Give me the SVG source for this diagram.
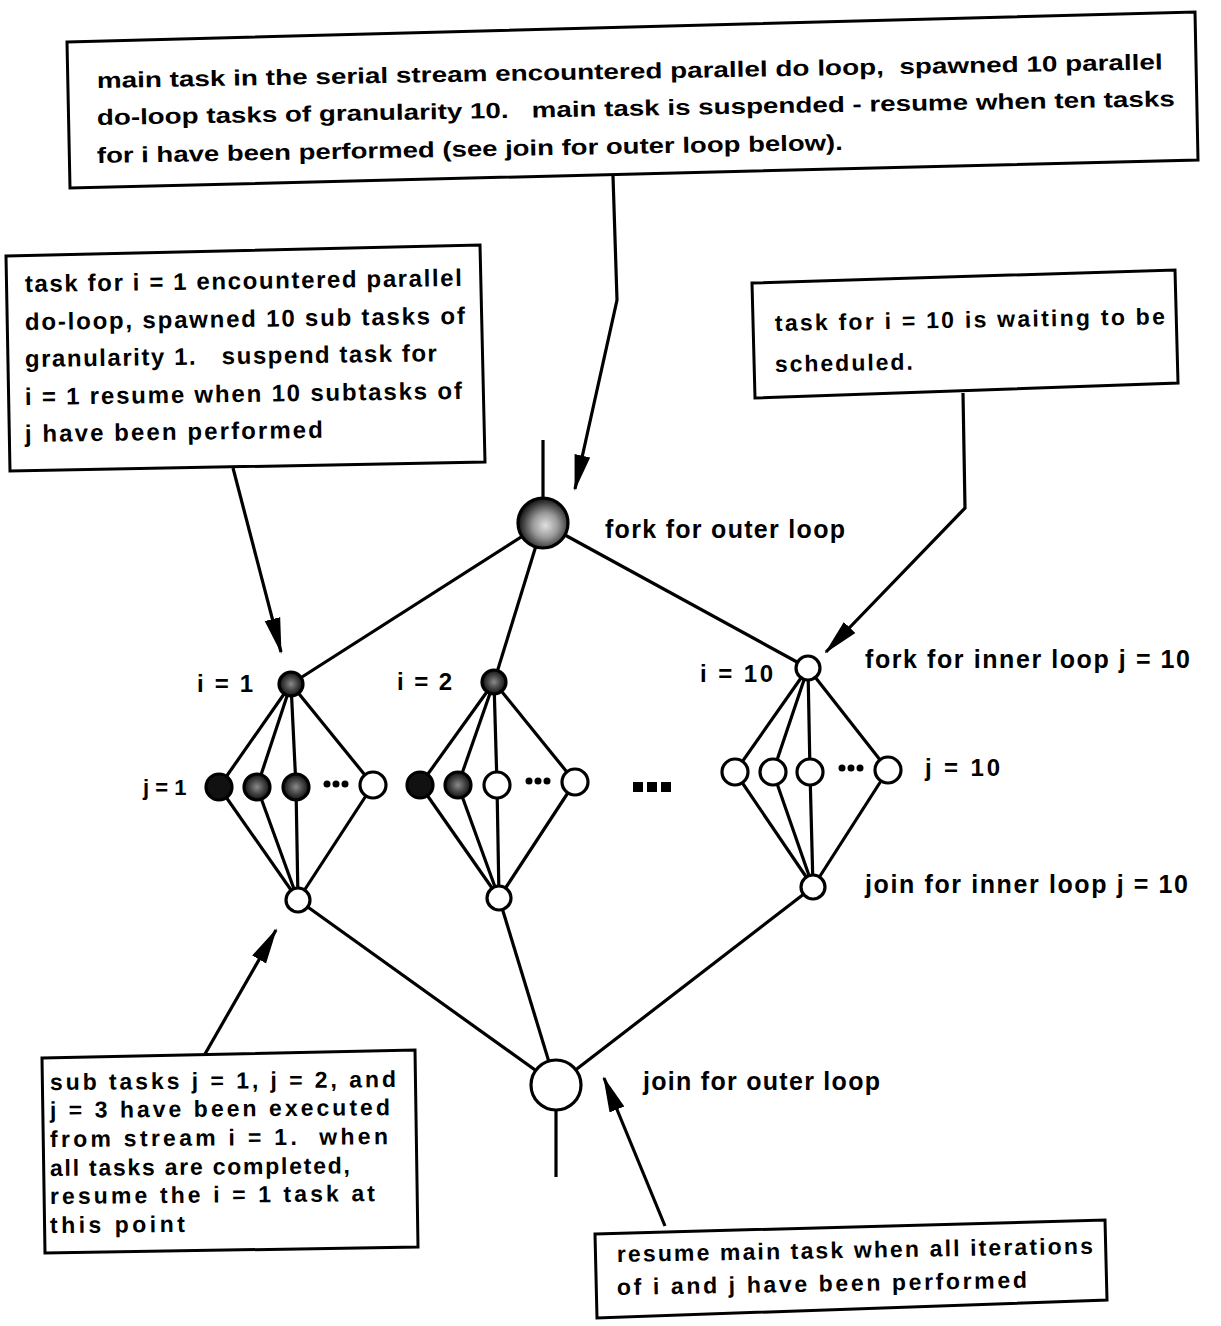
<svg xmlns="http://www.w3.org/2000/svg" width="1221" height="1326" viewBox="0 0 1221 1326">
<style>
.box{fill:#fff;stroke:#000;stroke-width:3}
.t{font-family:"Liberation Sans",Arial,sans-serif;font-weight:bold;fill:#000}
.e{stroke:#000;stroke-width:3.2;fill:none}
.n{stroke:#000;stroke-width:3.2}
.open{fill:#fff}
.blk{fill:#111}
.dk{fill:url(#dk)}
</style>
<defs>
<radialGradient id="dk" cx="50%" cy="50%" r="50%">
<stop offset="0" stop-color="#8a8a8a"/><stop offset="0.55" stop-color="#444"/><stop offset="1" stop-color="#111"/>
</radialGradient>
<radialGradient id="fk" cx="55%" cy="55%" r="55%">
<stop offset="0" stop-color="#e0e0e0"/><stop offset="0.45" stop-color="#9a9a9a"/><stop offset="1" stop-color="#111"/>
</radialGradient>
<marker id="ah" markerUnits="userSpaceOnUse" markerWidth="36" markerHeight="20" refX="34" refY="10" orient="auto">
<path d="M0,2 L36,10 L0,18 Z" fill="#000"/>
</marker>
</defs>

<g id="connectors">
<polyline class="e" points="613,176 617,300 575,489" marker-end="url(#ah)"/>
<polyline class="e" points="233,468 281,652" marker-end="url(#ah)"/>
<polyline class="e" points="963,393 965,508 826,652" marker-end="url(#ah)"/>
<polyline class="e" points="205,1054 276,930" marker-end="url(#ah)"/>
<polyline class="e" points="665,1226 604,1078" marker-end="url(#ah)"/>

<line class="e" x1="543" y1="440" x2="543" y2="500"/>
<line class="e" x1="543" y1="523" x2="291" y2="684"/>
<line class="e" x1="543" y1="523" x2="494" y2="682"/>
<line class="e" x1="543" y1="523" x2="808" y2="668"/>

<g>
<line class="e" x1="291" y1="684" x2="219" y2="787"/>
<line class="e" x1="291" y1="684" x2="257" y2="787"/>
<line class="e" x1="291" y1="684" x2="296" y2="787"/>
<line class="e" x1="291" y1="684" x2="373" y2="785"/>
<line class="e" x1="219" y1="787" x2="298" y2="900"/>
<line class="e" x1="257" y1="787" x2="298" y2="900"/>
<line class="e" x1="296" y1="787" x2="298" y2="900"/>
<line class="e" x1="373" y1="785" x2="298" y2="900"/>
</g>
<g>
<line class="e" x1="494" y1="682" x2="420" y2="785"/>
<line class="e" x1="494" y1="682" x2="458" y2="785"/>
<line class="e" x1="494" y1="682" x2="497" y2="785"/>
<line class="e" x1="494" y1="682" x2="575" y2="782"/>
<line class="e" x1="420" y1="785" x2="499" y2="898"/>
<line class="e" x1="458" y1="785" x2="499" y2="898"/>
<line class="e" x1="497" y1="785" x2="499" y2="898"/>
<line class="e" x1="575" y1="782" x2="499" y2="898"/>
</g>
<g>
<line class="e" x1="808" y1="668" x2="735" y2="772"/>
<line class="e" x1="808" y1="668" x2="773" y2="772"/>
<line class="e" x1="808" y1="668" x2="810" y2="772"/>
<line class="e" x1="808" y1="668" x2="888" y2="770"/>
<line class="e" x1="735" y1="772" x2="813" y2="887"/>
<line class="e" x1="773" y1="772" x2="813" y2="887"/>
<line class="e" x1="810" y1="772" x2="813" y2="887"/>
<line class="e" x1="888" y1="770" x2="813" y2="887"/>
</g>
<line class="e" x1="298" y1="900" x2="556" y2="1085"/>
<line class="e" x1="499" y1="898" x2="556" y2="1085"/>
<line class="e" x1="813" y1="887" x2="556" y2="1085"/>
<line class="e" x1="556" y1="1105" x2="556" y2="1177"/>
</g>

<g id="note-main">
<polygon class="box" points="67,42 1195,12 1198,160 70,188"/>
<g class="t" font-size="22">
<text x="97" y="88" transform="rotate(-1 97 88)" textLength="1066" lengthAdjust="spacingAndGlyphs">main task in the serial stream encountered parallel do loop,&#160; spawned 10 parallel</text>
<text x="97" y="125" transform="rotate(-1 97 125)" textLength="1078" lengthAdjust="spacingAndGlyphs">do-loop tasks of granularity 10.&#160;&#160; main task is suspended - resume when ten tasks</text>
<text x="97" y="163" transform="rotate(-1 97 163)" textLength="746" lengthAdjust="spacingAndGlyphs">for i have been performed (see join for outer loop below).</text>
</g>
</g>

<g id="note-i1">
<polygon class="box" points="6,256 480,245 485,462 10,471"/>
<g class="t" font-size="24">
<text x="25" y="292" transform="rotate(-0.8 25 292)" textLength="437" lengthAdjust="spacing">task for i = 1 encountered parallel</text>
<text x="25" y="330" transform="rotate(-0.8 25 330)" textLength="440" lengthAdjust="spacing">do-loop, spawned 10 sub tasks of</text>
<text x="25" y="367" transform="rotate(-0.8 25 367)" textLength="412" lengthAdjust="spacing">granularity 1.&#160;&#160; suspend task for</text>
<text x="25" y="405" transform="rotate(-0.8 25 405)" textLength="437" lengthAdjust="spacing">i = 1 resume when 10 subtasks of</text>
<text x="25" y="442" transform="rotate(-0.8 25 442)" textLength="298" lengthAdjust="spacing">j have been performed</text>
</g>
</g>

<g id="note-i10">
<polygon class="box" points="752,283 1175,270 1178,383 755,398"/>
<g class="t" font-size="23">
<text x="775" y="331" transform="rotate(-1 775 331)" textLength="390" lengthAdjust="spacing">task for i = 10 is waiting to be</text>
<text x="775" y="372" transform="rotate(-1 775 372)" textLength="138" lengthAdjust="spacing">scheduled.</text>
</g>
</g>

<g id="note-subtasks">
<polygon class="box" points="42,1058 415,1050 418,1247 45,1253"/>
<g class="t" font-size="23">
<text x="50" y="1090" transform="rotate(-0.5 50 1090)" textLength="346" lengthAdjust="spacing">sub tasks j = 1, j = 2, and</text>
<text x="50" y="1118" transform="rotate(-0.5 50 1118)" textLength="340" lengthAdjust="spacing">j = 3 have been executed</text>
<text x="50" y="1147" transform="rotate(-0.5 50 1147)" textLength="338" lengthAdjust="spacing">from stream i = 1.&#160; when</text>
<text x="50" y="1176" transform="rotate(-0.5 50 1176)" textLength="300" lengthAdjust="spacing">all tasks are completed,</text>
<text x="50" y="1204" transform="rotate(-0.5 50 1204)" textLength="325" lengthAdjust="spacing">resume the i = 1 task at</text>
<text x="50" y="1233" transform="rotate(-0.5 50 1233)" textLength="135" lengthAdjust="spacing">this point</text>
</g>
</g>

<g id="note-resume">
<polygon class="box" points="595,1234 1105,1220 1107,1300 597,1318"/>
<g class="t" font-size="23">
<text x="617" y="1262" transform="rotate(-1 617 1262)" textLength="476" lengthAdjust="spacing">resume main task when all iterations</text>
<text x="617" y="1295" transform="rotate(-1 617 1295)" textLength="410" lengthAdjust="spacing">of i and j have been performed</text>
</g>
</g>

<g id="fork-outer">
<circle class="n" cx="543" cy="523" r="25" fill="url(#fk)"/>
<text class="t" x="605" y="538" font-size="25" textLength="240" lengthAdjust="spacing">fork for outer loop</text>
</g>

<g id="fork-i1">
<circle class="n dk" cx="291" cy="684" r="12"/>
<text class="t" x="197" y="692" font-size="24" textLength="56" lengthAdjust="spacing">i = 1</text>
</g>
<g id="fork-i2">
<circle class="n dk" cx="494" cy="682" r="12"/>
<text class="t" x="397" y="690" font-size="24" textLength="55" lengthAdjust="spacing">i = 2</text>
</g>
<g id="fork-i10">
<circle class="n open" cx="808" cy="668" r="12"/>
<text class="t" x="700" y="682" font-size="24" textLength="73" lengthAdjust="spacing">i = 10</text>
<text class="t" x="865" y="668" font-size="25" textLength="325" lengthAdjust="spacing">fork for inner loop j = 10</text>
</g>

<g id="tasks-i1">
<text class="t" x="143" y="795" font-size="22">j = 1</text>
<circle class="n blk" cx="219" cy="787" r="13"/>
<circle class="n dk" cx="257" cy="787" r="13"/>
<circle class="n dk" cx="296" cy="787" r="13"/>
<circle cx="327" cy="784" r="3.5"/><circle cx="336" cy="784" r="3.5"/><circle cx="345" cy="784" r="3.5"/>
<circle class="n open" cx="373" cy="785" r="13"/>
</g>
<g id="tasks-i2">
<circle class="n blk" cx="420" cy="785" r="13"/>
<circle class="n dk" cx="458" cy="785" r="13"/>
<circle class="n open" cx="497" cy="785" r="13"/>
<circle cx="529" cy="781" r="3.5"/><circle cx="538" cy="781" r="3.5"/><circle cx="547" cy="781" r="3.5"/>
<circle class="n open" cx="575" cy="782" r="13"/>
</g>
<g id="ellipsis-between">
<rect x="633" y="782" width="10" height="10"/>
<rect x="647" y="782" width="10" height="10"/>
<rect x="661" y="782" width="10" height="10"/>
</g>
<g id="tasks-i10">
<circle class="n open" cx="735" cy="772" r="13"/>
<circle class="n open" cx="773" cy="772" r="13"/>
<circle class="n open" cx="810" cy="772" r="13"/>
<circle cx="842" cy="768" r="3.5"/><circle cx="851" cy="768" r="3.5"/><circle cx="860" cy="768" r="3.5"/>
<circle class="n open" cx="888" cy="770" r="13"/>
<text class="t" x="925" y="776" font-size="24" textLength="75" lengthAdjust="spacing">j = 10</text>
</g>

<g id="join-i1"><circle class="n open" cx="298" cy="900" r="12"/></g>
<g id="join-i2"><circle class="n open" cx="499" cy="898" r="12"/></g>
<g id="join-i10">
<circle class="n open" cx="813" cy="887" r="12"/>
<text class="t" x="865" y="893" font-size="25" textLength="323" lengthAdjust="spacing">join for inner loop j = 10</text>
</g>

<g id="join-outer">
<circle class="n open" cx="556" cy="1085" r="25"/>
<text class="t" x="643" y="1090" font-size="25" textLength="237" lengthAdjust="spacing">join for outer loop</text>
</g>
</svg>
